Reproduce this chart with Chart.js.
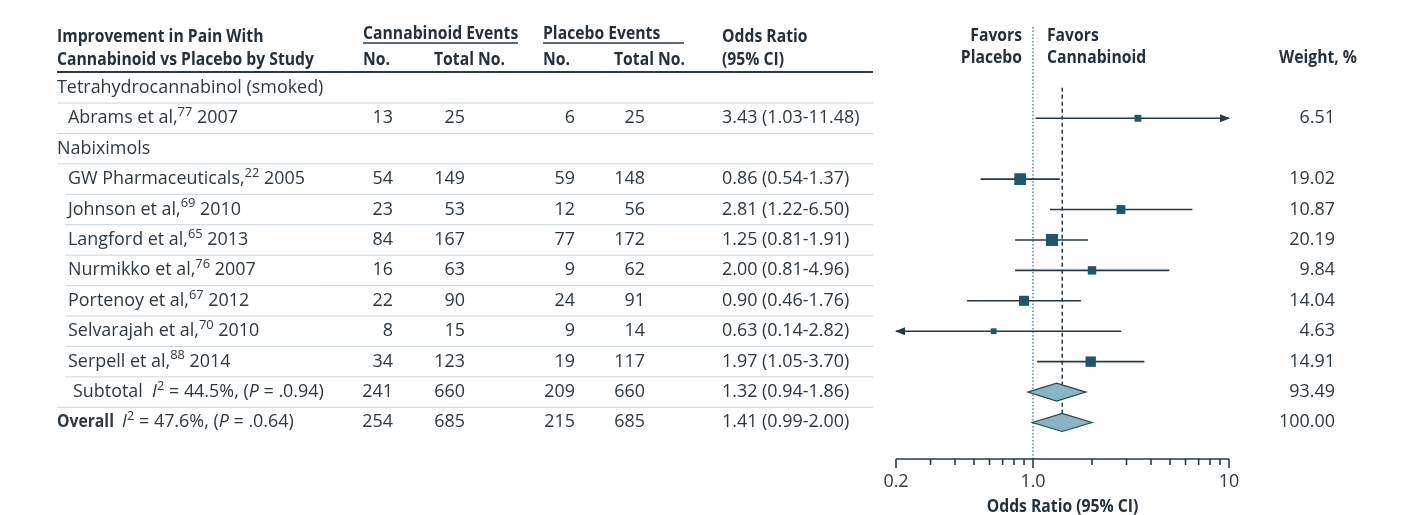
<!DOCTYPE html>
<html>
<head>
<meta charset="utf-8">
<script src="https://cdn.jsdelivr.net/npm/chart.js@4/dist/chart.umd.min.js"></script>
<style>
  html, body { margin: 0; padding: 0; background: #fff; }
  #wrap { width: 1405px; height: 515px; }
</style>
</head>
<body>
<div id="wrap"><canvas id="forest" width="1405" height="515"></canvas></div>
<script>
// Study data
const studyNames = ['Abrams et al,', 'GW Pharmaceuticals,', 'Johnson et al,', 'Langford et al,',
                    'Nurmikko et al,', 'Portenoy et al,', 'Selvarajah et al,', 'Serpell et al,'];
const studyRefs = ['77', '22', '69', '65', '76', '67', '70', '88'];
const studyYears = ['2007', '2005', '2010', '2013', '2007', '2012', '2010', '2014'];
const studyRows = [1, 3, 4, 5, 6, 7, 8, 9];
const cannEvents = [13, 54, 23, 84, 16, 22, 8, 34];
const cannTotal = [25, 149, 53, 167, 63, 90, 15, 123];
const placEvents = [6, 59, 12, 77, 9, 24, 9, 19];
const placTotal = [25, 148, 56, 172, 62, 91, 14, 117];
const oddsRatio = [3.43, 0.86, 2.81, 1.25, 2.00, 0.90, 0.63, 1.97];
const ciLow = [1.03, 0.54, 1.22, 0.81, 0.81, 0.46, 0.14, 1.05];
const ciHigh = [11.48, 1.37, 6.50, 1.91, 4.96, 1.76, 2.82, 3.70];
const weights = [6.51, 19.02, 10.87, 20.19, 9.84, 14.04, 4.63, 14.91];

// group headers
const groupNames = ['Tetrahydrocannabinol (smoked)', 'Nabiximols'];
const groupRows = [0, 2];

// pooled rows: subtotal, overall
const pooledRows = [10, 11];
const pooledI2 = ['44.5%', '47.6%'];
const pooledP = ['.0.94', '.0.64'];
const pooledCannEvents = [241, 254];
const pooledCannTotal = [660, 685];
const pooledPlacEvents = [209, 215];
const pooledPlacTotal = [660, 685];
const pooledOR = [1.32, 1.41];
const pooledLow = [0.94, 0.99];
const pooledHigh = [1.86, 2.00];
const pooledWeight = [93.49, 100.00];

// axis ticks
const majorTicks = [0.2, 1, 10];
const majorTickLabels = ['0.2', '1.0', '10'];
const minorTicks = [0.3, 0.4, 0.5, 0.6, 0.7, 0.8, 0.9, 2, 3, 4, 5, 6, 7, 8, 9];

const FONT = '"Open Sans", "Noto Sans", sans-serif';
const SIZE = 17.5;
const TXT = '#2e3840';
const HEAD = '#25303a';
const LINE = '#2a3a44';
const MARK = '#1d5768';
let SX = 0.88, SXB = 0.88;

const fmt2 = v => v.toFixed(2);

function fontOf(s, size) {
  return (s.i ? 'italic ' : '') + (s.b ? '700 ' : '500 ') + size + 'px ' + FONT;
}

// draw run of segments: {t, b (bold), i (italic), sup}
function drawRich(ctx, segs, x, y, align, color) {
  const parts = segs.map(s => {
    const sz = s.sup ? SIZE * 0.72 : SIZE;
    const f = fontOf(s, sz);
    ctx.font = f;
    const sx = s.b ? SXB : SX;
    return { t: s.t, f: f, sx: sx, w: ctx.measureText(s.t).width * sx, dy: s.sup ? -SIZE * 0.33 : 0 };
  });
  const total = parts.reduce((a, p) => a + p.w, 0);
  let cx = align === 'right' ? x - total : (align === 'center' ? x - total / 2 : x);
  ctx.save();
  ctx.fillStyle = color || TXT;
  ctx.textBaseline = 'middle';
  ctx.textAlign = 'left';
  parts.forEach(p => {
    ctx.save();
    ctx.translate(cx, y + p.dy);
    ctx.scale(p.sx, 1);
    ctx.font = p.f;
    ctx.fillText(p.t, 0, 0);
    ctx.restore();
    cx += p.w;
  });
  ctx.restore();
}
function txt(ctx, s, x, y, align, bold, color) {
  drawRich(ctx, [{ t: s, b: bold }], x, y, align, color || (bold ? HEAD : TXT));
}

function hline(ctx, x1, x2, y, color, w) {
  ctx.save();
  ctx.strokeStyle = color;
  ctx.lineWidth = w;
  ctx.beginPath();
  ctx.moveTo(x1, y);
  ctx.lineTo(x2, y);
  ctx.stroke();
  ctx.restore();
}

const forestPlugin = {
  id: 'forest',
  beforeDatasetsDraw(chart) {
    const ctx = chart.ctx;
    const xs = chart.scales.x, ys = chart.scales.y;
    const ca = chart.chartArea;

    // calibrate condensed text widths against the reference layout
    ctx.font = fontOf({}, SIZE);
    const r1 = 250 / ctx.measureText(groupNames[0]).width;
    const r2 = 146 / ctx.measureText('3.43 (1.03-11.48)').width;
    SX = (r1 + r2) / 2;
    ctx.font = fontOf({ b: true }, SIZE);
    SXB = 257 / ctx.measureText('Cannabinoid vs Placebo by Study').width;

    // reference lines
    const x1 = xs.getPixelForValue(1);
    ctx.save();
    ctx.strokeStyle = '#4a8fb5';
    ctx.lineWidth = 1.5;
    ctx.setLineDash([1.5, 2]);
    ctx.beginPath();
    ctx.moveTo(x1, ca.top);
    ctx.lineTo(x1, ca.bottom);
    ctx.stroke();
    const xo = xs.getPixelForValue(pooledOR[1]);
    ctx.strokeStyle = LINE;
    ctx.setLineDash([4, 3]);
    ctx.beginPath();
    ctx.moveTo(xo, ys.getPixelForValue(0));
    ctx.lineTo(xo, ys.getPixelForValue(pooledRows[1]));
    ctx.stroke();
    ctx.restore();

    // whiskers with arrows when clipped
    ctx.save();
    ctx.strokeStyle = LINE;
    ctx.fillStyle = LINE;
    ctx.lineWidth = 1.6;
    studyRows.forEach((r, i) => {
      const y = ys.getPixelForValue(r);
      const lo = Math.max(ciLow[i], xs.min), hi = Math.min(ciHigh[i], xs.max);
      const pl = xs.getPixelForValue(lo), ph = xs.getPixelForValue(hi);
      ctx.beginPath();
      ctx.moveTo(pl, y);
      ctx.lineTo(ph, y);
      ctx.stroke();
      if (ciHigh[i] > xs.max) {
        ctx.beginPath();
        ctx.moveTo(ph + 1, y);
        ctx.lineTo(ph - 9, y - 4);
        ctx.lineTo(ph - 9, y + 4);
        ctx.closePath();
        ctx.fill();
      }
      if (ciLow[i] < xs.min) {
        ctx.beginPath();
        ctx.moveTo(pl - 1, y);
        ctx.lineTo(pl + 9, y - 4);
        ctx.lineTo(pl + 9, y + 4);
        ctx.closePath();
        ctx.fill();
      }
    });
    ctx.restore();
  },
  afterDatasetsDraw(chart) {
    const ctx = chart.ctx;
    const xs = chart.scales.x, ys = chart.scales.y;
    const ca = chart.chartArea;

    // pooled diamonds
    pooledRows.forEach((r, i) => {
      const y = ys.getPixelForValue(r);
      const h = 9;
      ctx.save();
      ctx.beginPath();
      ctx.moveTo(xs.getPixelForValue(pooledLow[i]), y);
      ctx.lineTo(xs.getPixelForValue(pooledOR[i]), y - h);
      ctx.lineTo(xs.getPixelForValue(pooledHigh[i]), y);
      ctx.lineTo(xs.getPixelForValue(pooledOR[i]), y + h);
      ctx.closePath();
      ctx.fillStyle = '#86b5c5';
      ctx.fill();
      ctx.strokeStyle = '#2a4752';
      ctx.lineWidth = 1.2;
      ctx.stroke();
      ctx.restore();
    });

    // x axis
    const ay = ca.bottom;
    hline(ctx, xs.getPixelForValue(xs.min), xs.getPixelForValue(xs.max), ay, LINE, 1.6);
    ctx.save();
    ctx.strokeStyle = LINE;
    ctx.lineWidth = 1.6;
    minorTicks.forEach(v => {
      const px = xs.getPixelForValue(v);
      ctx.beginPath(); ctx.moveTo(px, ay); ctx.lineTo(px, ay + 6); ctx.stroke();
    });
    majorTicks.forEach(v => {
      const px = xs.getPixelForValue(v);
      ctx.beginPath(); ctx.moveTo(px, ay); ctx.lineTo(px, ay + 9); ctx.stroke();
    });
    ctx.restore();
    majorTicks.forEach((v, i) => txt(ctx, majorTickLabels[i], xs.getPixelForValue(v), ay + 23, 'center', false));
    txt(ctx, 'Odds Ratio (95% CI)', (ca.left + ca.right) / 2, ay + 48, 'center', true);

    // header
    txt(ctx, 'Improvement in Pain With', 57, 37, 'left', true);
    txt(ctx, 'Cannabinoid vs Placebo by Study', 57, 60, 'left', true);
    txt(ctx, 'Cannabinoid Events', 363, 34, 'left', true);
    hline(ctx, 363, 518, 43, LINE, 1.5);
    txt(ctx, 'Placebo Events', 543, 34, 'left', true);
    hline(ctx, 543, 684, 43, LINE, 1.5);
    txt(ctx, 'No.', 363, 60, 'left', true);
    txt(ctx, 'Total No.', 434, 60, 'left', true);
    txt(ctx, 'No.', 543, 60, 'left', true);
    txt(ctx, 'Total No.', 614, 60, 'left', true);
    txt(ctx, 'Odds Ratio', 722, 37, 'left', true);
    txt(ctx, '(95% CI)', 722, 60, 'left', true);
    hline(ctx, 57, 873, 72, LINE, 2);
    txt(ctx, 'Favors', 1022, 36, 'right', true);
    txt(ctx, 'Placebo', 1022, 58, 'right', true);
    txt(ctx, 'Favors', 1047, 36, 'left', true);
    txt(ctx, 'Cannabinoid', 1047, 58, 'left', true);
    txt(ctx, 'Weight, %', 1357, 58, 'right', true);

    const half = (ys.getPixelForValue(1) - ys.getPixelForValue(0)) / 2;

    // group rows
    groupRows.forEach((r, i) => {
      const y = ys.getPixelForValue(r);
      txt(ctx, groupNames[i], 57, y, 'left', false);
      hline(ctx, 57, 873, y + half, '#c9d5dc', 1);
    });

    // study rows
    studyRows.forEach((r, i) => {
      const y = ys.getPixelForValue(r);
      drawRich(ctx, [{ t: studyNames[i] }, { t: studyRefs[i], sup: true }, { t: ' ' + studyYears[i] }], 68, y, 'left');
      txt(ctx, String(cannEvents[i]), 393, y, 'right');
      txt(ctx, String(cannTotal[i]), 465, y, 'right');
      txt(ctx, String(placEvents[i]), 575, y, 'right');
      txt(ctx, String(placTotal[i]), 645, y, 'right');
      txt(ctx, fmt2(oddsRatio[i]) + ' (' + fmt2(ciLow[i]) + '-' + fmt2(ciHigh[i]) + ')', 722, y, 'left');
      txt(ctx, fmt2(weights[i]), 1335, y, 'right');
      hline(ctx, i === 0 ? 57 : 65, 873, y + half, '#c9d5dc', 1);
    });

    // pooled rows
    pooledRows.forEach((r, i) => {
      const y = ys.getPixelForValue(r);
      const lead = i === 0 ? { t: 'Subtotal  ' } : { t: 'Overall  ', b: true };
      drawRich(ctx, [lead, { t: 'I', i: true }, { t: '2', sup: true }, { t: ' = ' + pooledI2[i] + ', (' },
                     { t: 'P', i: true }, { t: ' = ' + pooledP[i] + ')' }], i === 0 ? 73 : 57, y, 'left');
      txt(ctx, String(pooledCannEvents[i]), 393, y, 'right');
      txt(ctx, String(pooledCannTotal[i]), 465, y, 'right');
      txt(ctx, String(pooledPlacEvents[i]), 575, y, 'right');
      txt(ctx, String(pooledPlacTotal[i]), 645, y, 'right');
      txt(ctx, fmt2(pooledOR[i]) + ' (' + fmt2(pooledLow[i]) + '-' + fmt2(pooledHigh[i]) + ')', 722, y, 'left');
      txt(ctx, fmt2(pooledWeight[i]), 1335, y, 'right');
      if (i === 0) hline(ctx, 57, 873, y + half, '#c9d5dc', 1);
    });
  }
};

new Chart(document.getElementById('forest'), {
  type: 'scatter',
  data: {
    datasets: [{
      label: 'Study OR',
      data: studyRows.map((r, i) => ({ x: oddsRatio[i], y: r })),
      pointStyle: 'rect',
      pointRadius: weights.map(w => 1.9 * Math.sqrt(w)),
      pointHoverRadius: weights.map(w => 1.9 * Math.sqrt(w)),
      backgroundColor: MARK,
      borderWidth: 0
    }]
  },
  options: {
    responsive: false,
    animation: false,
    layout: { padding: { left: 896, right: 176, top: 27, bottom: 56 } },
    plugins: { legend: { display: false }, tooltip: { enabled: false } },
    scales: {
      x: { type: 'logarithmic', min: 0.2, max: 10, display: false },
      y: { type: 'linear', min: -2, max: 12.2, reverse: true, display: false }
    }
  },
  plugins: [forestPlugin]
});
</script>
</body>
</html>
